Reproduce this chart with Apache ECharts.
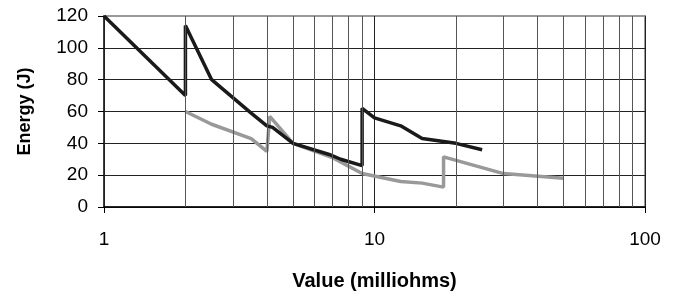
<!DOCTYPE html>
<html>
<head>
<meta charset="utf-8">
<script src="https://cdn.jsdelivr.net/npm/echarts@6/dist/echarts.min.js"></script>
<style>
  html, body { margin: 0; padding: 0; background: #fff; }
  #chart { width: 679px; height: 296px; }
</style>
</head>
<body>
<div id="chart"></div>
<script>
// 数据 (读自参考图)
const blackX = [1, 2, 2, 2.5, 3.5, 4, 4.2, 5, 6.8, 7.5, 9, 9, 10, 12.5, 15, 20, 25]
const blackY = [120, 70, 114, 80, 59, 51, 50, 40, 33, 30, 26, 62, 56, 51, 43, 40, 36]
const grayX = [2, 2.5, 3.5, 4, 4.1, 5, 7, 9, 12.5, 15, 18, 18, 30, 50]
const grayY = [60, 52, 43, 35, 57, 40, 31, 21, 16, 15, 12.5, 31.5, 21, 18]
const xMajorTicks = [1, 10, 100]
const xMinorTicks = [2, 3, 4, 5, 6, 7, 8, 9, 20, 30, 40, 50, 60, 70, 80, 90]
const yTicks = [0, 20, 40, 60, 80, 100, 120]

const toPairs = (xs, ys) => xs.map((x, i) => [x, ys[i]])

const chart = echarts.init(document.getElementById('chart'))

const option = {
  animation: false,
  grid: {
    left: 104,
    right: 34,
    top: 16,
    bottom: 89,
    show: true,
    borderColor: '#999',
    borderWidth: 2
  },
  xAxis: {
    type: 'log',
    logBase: 10,
    min: xMajorTicks[0],
    max: xMajorTicks[xMajorTicks.length - 1],
    name: 'Value (milliohms)',
    nameLocation: 'middle',
    nameGap: 64,
    nameTextStyle: {
      fontFamily: 'Liberation Sans',
      fontWeight: 'bold',
      fontSize: 20,
      color: '#000'
    },
    axisLine: { show: true, lineStyle: { color: '#000', width: 1.5 } },
    axisTick: { show: true, length: 6, lineStyle: { color: '#000' } },
    axisLabel: {
      margin: 23,
      fontFamily: 'Liberation Sans',
      fontSize: 19,
      color: '#000'
    },
    splitLine: { show: true, lineStyle: { color: '#222', width: 1 } },
    minorTick: { show: false },
    minorSplitLine: { show: false }
  },
  yAxis: {
    type: 'value',
    min: yTicks[0],
    max: yTicks[yTicks.length - 1],
    interval: 20,
    name: 'Energy (J)',
    nameLocation: 'middle',
    nameGap: 70,
    nameTextStyle: {
      fontFamily: 'Liberation Sans',
      fontWeight: 'bold',
      fontSize: 18,
      color: '#000'
    },
    axisLine: { show: true, lineStyle: { color: '#222', width: 1.5 } },
    axisTick: { show: true, length: 6, lineStyle: { color: '#000' } },
    axisLabel: {
      margin: 16,
      fontFamily: 'Liberation Sans',
      fontSize: 19,
      color: '#000'
    },
    splitLine: {
      show: true,
      lineStyle: { color: ['#222', '#222', '#222', '#222', '#222', '#222', '#999'], width: 1 }
    }
  },
  series: [
    {
      name: 'minor',
      type: 'line',
      data: [],
      silent: true,
      markLine: {
        silent: true,
        symbol: 'none',
        label: { show: false },
        lineStyle: { color: '#555', width: 1, type: 'solid' },
        data: xMinorTicks.map(v => ({ xAxis: v }))
      }
    },
    {
      name: 'gray',
      type: 'line',
      data: toPairs(grayX, grayY),
      showSymbol: false,
      lineStyle: { color: '#999', width: 3.5 },
      z: 3
    },
    {
      name: 'black',
      type: 'line',
      data: toPairs(blackX, blackY),
      showSymbol: false,
      lineStyle: { color: '#1a1a1a', width: 3.5 },
      z: 4
    }
  ]
}

chart.setOption(option)
</script>
</body>
</html>
